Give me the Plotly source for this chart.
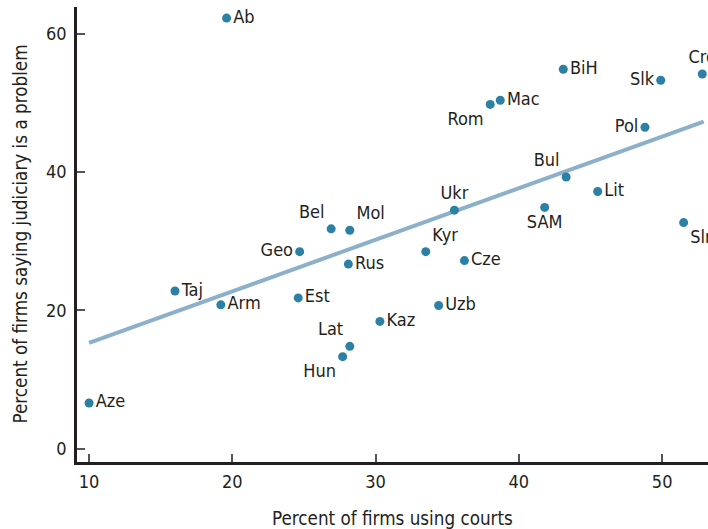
import plotly.graph_objects as go

countries = ["Ab", "Bel", "Mol", "Geo", "Rus", "Ukr", "Kyr", "Cze", "SAM", "Bul",
             "Lit", "Sln", "Pol", "Slk", "Cro", "BiH", "Mac", "Rom", "Taj", "Arm",
             "Est", "Lat", "Hun", "Aze", "Kaz", "Uzb"]
courts_pct = [19.6, 26.9, 28.2, 24.7, 28.1, 35.5, 33.5, 36.2, 41.8, 43.3,
              45.5, 51.5, 48.8, 49.9, 52.8, 43.1, 38.7, 38.0, 16.0, 19.2,
              24.6, 28.2, 27.7, 10.0, 30.3, 34.4]
judiciary_pct = [62.3, 31.8, 31.6, 28.5, 26.7, 34.5, 28.5, 27.2, 34.9, 39.3,
                 37.2, 32.7, 46.5, 53.3, 54.2, 54.9, 50.4, 49.8, 22.8, 20.8,
                 21.8, 14.8, 13.3, 6.6, 18.4, 20.7]
label_pos = ["middle right", "top left", "top right", "middle left", "middle right",
             "top center", "top right", "middle right", "bottom center", "top left",
             "middle right", "bottom right", "middle left", "middle left", "top center",
             "middle right", "middle right", "bottom left", "middle right", "middle right",
             "middle right", "top left", "bottom left", "middle right", "middle right",
             "middle right"]

trend_x = [10.0, 52.9]
trend_y = [15.3, 47.3]

x_ticks = [10, 20, 30, 40, 50]
y_ticks = [0, 20, 40, 60]

x_title = "Percent of firms using courts"
y_title = "Percent of firms saying judiciary is a problem"

FONT = "DejaVu Sans Condensed, Liberation Sans Narrow, sans-serif"
INK = "#231f20"

fig = go.Figure()
fig.add_trace(go.Scatter(
    x=trend_x, y=trend_y, mode="lines",
    line=dict(color="#8cb0c9", width=4),
    hoverinfo="skip", showlegend=False,
))
fig.add_trace(go.Scatter(
    x=courts_pct, y=judiciary_pct, mode="markers+text",
    text=countries, textposition=label_pos,
    textfont=dict(family=FONT, size=18, color=INK),
    marker=dict(color="#2b80a3", size=9),
    cliponaxis=False, showlegend=False,
))

fig.update_layout(
    width=708, height=529,
    margin=dict(l=77, r=0, t=7, b=67, autoexpand=False),
    paper_bgcolor="white", plot_bgcolor="white",
    font=dict(family=FONT, size=18, color=INK),
    showlegend=False,
    annotations=[
        dict(text=x_title, xref="paper", yref="paper", x=0.5, y=0,
             xanchor="center", yanchor="middle", yshift=-56, showarrow=False,
             font=dict(family=FONT, size=18.7, color=INK)),
        dict(text=y_title, xref="paper", yref="paper", x=0, y=0.5,
             xanchor="center", yanchor="middle", xshift=-57, textangle=-90,
             showarrow=False, font=dict(family=FONT, size=18.7, color=INK)),
    ],
)
fig.update_xaxes(
    range=[9.16, 53.2], tickvals=x_ticks, ticktext=[str(v) for v in x_ticks],
    showgrid=False, zeroline=False, automargin=False,
    showline=True, linecolor=INK, linewidth=2.5,
    ticks="inside", ticklen=8, tickcolor="#555555", tickwidth=1.5,
    tickfont=dict(family=FONT, size=18, color=INK), ticklabelstandoff=2,
)
fig.update_yaxes(
    range=[-1.94, 63.9], tickvals=y_ticks, ticktext=[str(v) for v in y_ticks],
    showgrid=False, zeroline=False, automargin=False,
    showline=True, linecolor=INK, linewidth=2.5,
    ticks="inside", ticklen=8, tickcolor="#555555", tickwidth=1.5,
    tickfont=dict(family=FONT, size=18, color=INK), ticklabelstandoff=4,
)

fig.write_html(
    "out.html",
    config={"displayModeBar": False},
    post_script="document.body.style.margin='0';document.body.style.overflow='hidden';",
)
